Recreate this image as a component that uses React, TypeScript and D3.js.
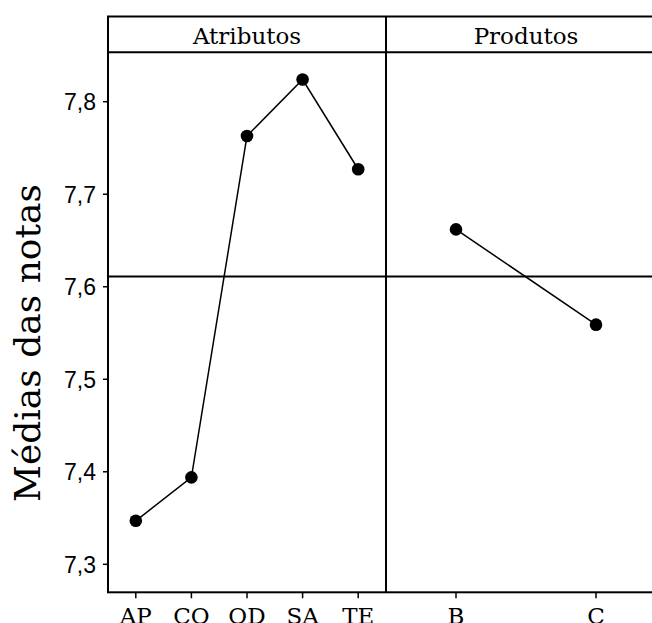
import React, { useRef, useEffect } from "react";
import * as d3 from "d3";

const atributos = ["AP", "CO", "OD", "SA", "TE"];
const atributosMedias = [7.347, 7.394, 7.763, 7.824, 7.727];
const produtos = ["B", "C"];
const produtosMedias = [7.662, 7.559];
const yTicks = [7.3, 7.4, 7.5, 7.6, 7.7, 7.8];
const paineis = ["Atributos", "Produtos"];

const width = 652;
const height = 623;

const App = () => {
  const ref = useRef<SVGSVGElement>(null);

  useEffect(() => {
    const svg = d3.select(ref.current);
    svg.selectAll("*").remove();

    const left = 108;
    const mid = 386;
    const right = 666;
    const top = 16.5;
    const stripBottom = 52.3;
    const bottom = 592.3;

    const y = d3.scaleLinear().domain([7.3, 7.8]).range([564.3, 101.7]);
    const xA = d3.scaleBand().domain(atributos).range([left, mid]);
    const xP = d3.scaleBand().domain(produtos).range([mid, right]);

    const serif = "'DejaVu Serif', serif";

    // frame
    svg
      .append("rect")
      .attr("x", left)
      .attr("y", top)
      .attr("width", right - left)
      .attr("height", bottom - top)
      .attr("fill", "none")
      .attr("stroke", "#000")
      .attr("stroke-width", 2);

    svg
      .append("line")
      .attr("x1", left)
      .attr("x2", right)
      .attr("y1", stripBottom)
      .attr("y2", stripBottom)
      .attr("stroke", "#000")
      .attr("stroke-width", 2);

    svg
      .append("line")
      .attr("x1", mid)
      .attr("x2", mid)
      .attr("y1", top)
      .attr("y2", bottom)
      .attr("stroke", "#000")
      .attr("stroke-width", 2);

    // strip labels
    svg
      .selectAll("text.strip")
      .data(paineis)
      .join("text")
      .attr("class", "strip")
      .attr("x", (d, i) => (i === 0 ? (left + mid) / 2 : (mid + right) / 2))
      .attr("y", 44)
      .attr("text-anchor", "middle")
      .attr("font-family", serif)
      .attr("font-size", 23)
      .text((d) => d);

    // grand mean line
    const media = d3.mean(atributosMedias) as number;
    svg
      .append("line")
      .attr("x1", left)
      .attr("x2", right)
      .attr("y1", y(media))
      .attr("y2", y(media))
      .attr("stroke", "#000")
      .attr("stroke-width", 2);

    // y axis
    const yAxis = svg.append("g");
    yAxis
      .selectAll("line")
      .data(yTicks)
      .join("line")
      .attr("x1", left - 5)
      .attr("x2", left)
      .attr("y1", (d) => y(d))
      .attr("y2", (d) => y(d))
      .attr("stroke", "#000")
      .attr("stroke-width", 1.5);
    yAxis
      .selectAll("text")
      .data(yTicks)
      .join("text")
      .attr("x", left - 12)
      .attr("y", (d) => y(d))
      .attr("dy", "0.36em")
      .attr("text-anchor", "end")
      .attr("font-family", "'Liberation Sans', sans-serif")
      .attr("font-size", 23)
      .text((d) => d3.format(".1f")(d).replace(".", ","));

    svg
      .append("text")
      .attr("transform", `translate(40,${(y(7.3) + y(7.8)) / 2 + 10}) rotate(-90)`)
      .attr("text-anchor", "middle")
      .attr("font-family", serif)
      .attr("font-size", 36)
      .text("Médias das notas");

    // x axes
    const xTicks = [
      ...atributos.map((d) => ({ label: d, x: (xA(d) as number) + xA.bandwidth() / 2 })),
      ...produtos.map((d) => ({ label: d, x: (xP(d) as number) + xP.bandwidth() / 2 })),
    ];
    svg
      .append("g")
      .selectAll("line")
      .data(xTicks)
      .join("line")
      .attr("x1", (d) => d.x)
      .attr("x2", (d) => d.x)
      .attr("y1", bottom)
      .attr("y2", bottom + 6)
      .attr("stroke", "#000")
      .attr("stroke-width", 1.5);
    svg
      .append("g")
      .selectAll("text")
      .data(xTicks)
      .join("text")
      .attr("x", (d) => d.x)
      .attr("y", 624)
      .attr("text-anchor", "middle")
      .attr("font-family", serif)
      .attr("font-size", 23)
      .text((d) => d.label);

    // series
    const series = [
      atributos.map((d, i) => [(xA(d) as number) + xA.bandwidth() / 2, y(atributosMedias[i])]),
      produtos.map((d, i) => [(xP(d) as number) + xP.bandwidth() / 2, y(produtosMedias[i])]),
    ] as [number, number][][];

    const line = d3.line();
    series.forEach((pts) => {
      svg
        .append("path")
        .attr("d", line(pts))
        .attr("fill", "none")
        .attr("stroke", "#000")
        .attr("stroke-width", 1.5);
      svg
        .append("g")
        .selectAll("circle")
        .data(pts)
        .join("circle")
        .attr("cx", (d) => d[0])
        .attr("cy", (d) => d[1])
        .attr("r", 6.3)
        .attr("fill", "#000");
    });
  }, []);

  return (
    <svg
      ref={ref}
      width={width}
      height={height}
      style={{ position: "absolute", left: 0, top: 0, background: "#fff" }}
    />
  );
};

export default App;
